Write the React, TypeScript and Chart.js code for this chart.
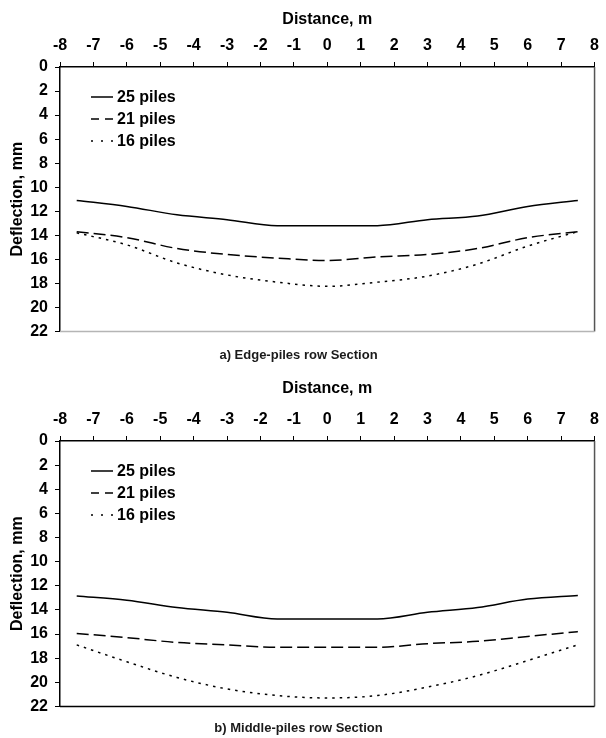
import React, { useEffect, useRef } from "react";
import { Chart, registerables } from "chart.js";

Chart.register(...registerables);

const distances = [-7.5, -6, -4.5, -3, -1.5, 0, 1.5, 3, 4.5, 6, 7.5];
const seriesNames = ["25 piles", "21 piles", "16 piles"];

const edge25 = [11.1, 11.6, 12.3, 12.7, 13.2, 13.2, 13.2, 12.7, 12.4, 11.6, 11.1];
const edge21 = [13.7, 14.2, 15.1, 15.6, 15.9, 16.1, 15.8, 15.6, 15.1, 14.2, 13.7];
const edge16 = [13.8, 14.8, 16.3, 17.3, 17.9, 18.25, 17.9, 17.4, 16.4, 14.9, 13.7];

const mid25 = [12.85, 13.2, 13.8, 14.2, 14.75, 14.75, 14.75, 14.2, 13.8, 13.1, 12.8];
const mid21 = [15.95, 16.3, 16.7, 16.9, 17.1, 17.1, 17.1, 16.8, 16.6, 16.2, 15.8];
const mid16 = [16.9, 18.3, 19.6, 20.55, 21.1, 21.3, 21.1, 20.4, 19.45, 18.2, 16.9];

const xTitle = "Distance, m";
const yTitle = "Deflection, mm";
const captionA = "a) Edge-piles row Section";
const captionB = "b) Middle-piles row Section";

const FAMILY = "'Liberation Sans', Arial, sans-serif";
const lineDashes = [[], [12, 5], [2.5, 5]];
const legendDashes = [[], [8, 6], [2, 8]];

type PanelProps = {
  series: number[][];
  caption: string;
  topH: number;
  capPadTop: number;
  capPadBottom: number;
  bottomColor: string;
};

function Panel({ series, caption, topH, capPadTop, capPadBottom, bottomColor }: PanelProps) {
  const ref = useRef<HTMLCanvasElement | null>(null);
  useEffect(() => {
    if (!ref.current) return;
    const font = { family: FAMILY, size: 16, weight: "bold" as const };
    const capFont = { family: FAMILY, size: 13, weight: "bold" as const };
    const frame = {
      id: "frame",
      afterDraw(chart: any) {
        const { ctx, chartArea: a } = chart;
        ctx.save();
        ctx.lineWidth = 1.5;
        ctx.strokeStyle = "#555";
        ctx.beginPath();
        ctx.moveTo(a.right, a.top);
        ctx.lineTo(a.right, a.bottom);
        ctx.stroke();
        ctx.strokeStyle = bottomColor;
        ctx.beginPath();
        ctx.moveTo(a.left, a.bottom);
        ctx.lineTo(a.right, a.bottom);
        ctx.stroke();
        ctx.restore();
      },
    };
    const innerLegend = {
      id: "innerLegend",
      afterDatasetsDraw(chart: any) {
        const { ctx, chartArea: a } = chart;
        ctx.save();
        chart.data.datasets.forEach((ds: any, i: number) => {
          const y = a.top + 30 + i * 22;
          ctx.strokeStyle = "#000";
          ctx.lineWidth = 1.5;
          ctx.setLineDash(legendDashes[i]);
          ctx.beginPath();
          ctx.moveTo(a.left + 31, y);
          ctx.lineTo(a.left + 53, y);
          ctx.stroke();
          ctx.setLineDash([]);
          ctx.fillStyle = "#000";
          ctx.font = `bold 16px ${FAMILY}`;
          ctx.textAlign = "left";
          ctx.textBaseline = "middle";
          ctx.fillText(ds.label, a.left + 57, y + 1);
        });
        ctx.restore();
      },
    };
    const chart = new Chart(ref.current, {
      type: "line",
      data: {
        datasets: series.map((vals, i) => ({
          label: seriesNames[i],
          data: distances.map((d, j) => ({ x: d, y: vals[j] })),
          borderColor: "#000",
          borderWidth: 1.5,
          borderDash: lineDashes[i],
          pointRadius: 0,
          fill: false,
          cubicInterpolationMode: "monotone" as const,
        })),
      },
      options: {
        animation: false,
        responsive: false,
        layout: { padding: { left: 0, right: 9, top: 0, bottom: 0 } },
        plugins: {
          legend: { display: false },
          tooltip: { enabled: false },
          title: {
            display: true,
            position: "bottom",
            text: caption,
            color: "#1a1a1a",
            font: capFont,
            padding: { top: capPadTop, bottom: capPadBottom },
          },
        },
        scales: {
          x: {
            type: "linear",
            position: "top",
            min: -8,
            max: 8,
            ticks: { stepSize: 1, color: "#000", font, padding: 7 },
            grid: { drawOnChartArea: false, drawTicks: true, tickLength: 5, color: "#000" },
            border: { display: true, color: "#000", width: 1.5 },
            title: { display: true, text: xTitle, color: "#000", font, padding: { top: 10, bottom: 0 } },
            afterFit: (s: any) => {
              s.height = topH;
            },
          },
          y: {
            type: "linear",
            reverse: true,
            min: 0,
            max: 22,
            ticks: { stepSize: 2, color: "#000", font, padding: 7 },
            grid: { drawOnChartArea: false, drawTicks: true, tickLength: 5, color: "#000" },
            border: { display: true, color: "#000", width: 1.5 },
            title: { display: true, text: yTitle, color: "#000", font, padding: { top: 8, bottom: 0 } },
            afterFit: (s: any) => {
              s.width = 60;
            },
          },
        },
      },
      plugins: [frame, innerLegend],
    });
    return () => chart.destroy();
  }, []);
  return <canvas ref={ref} width={606} height={369} style={{ display: "block" }} />;
}

export default function App() {
  return (
    <div style={{ position: "absolute", left: 0, top: 0, width: 606, height: 738, background: "#fff" }}>
      <Panel series={[edge25, edge21, edge16]} caption={captionA} topH={67} capPadTop={16} capPadBottom={6} bottomColor="#b5b5b5" />
      <Panel series={[mid25, mid21, mid16]} caption={captionB} topH={72} capPadTop={14} capPadBottom={2} bottomColor="#000" />
    </div>
  );
}
